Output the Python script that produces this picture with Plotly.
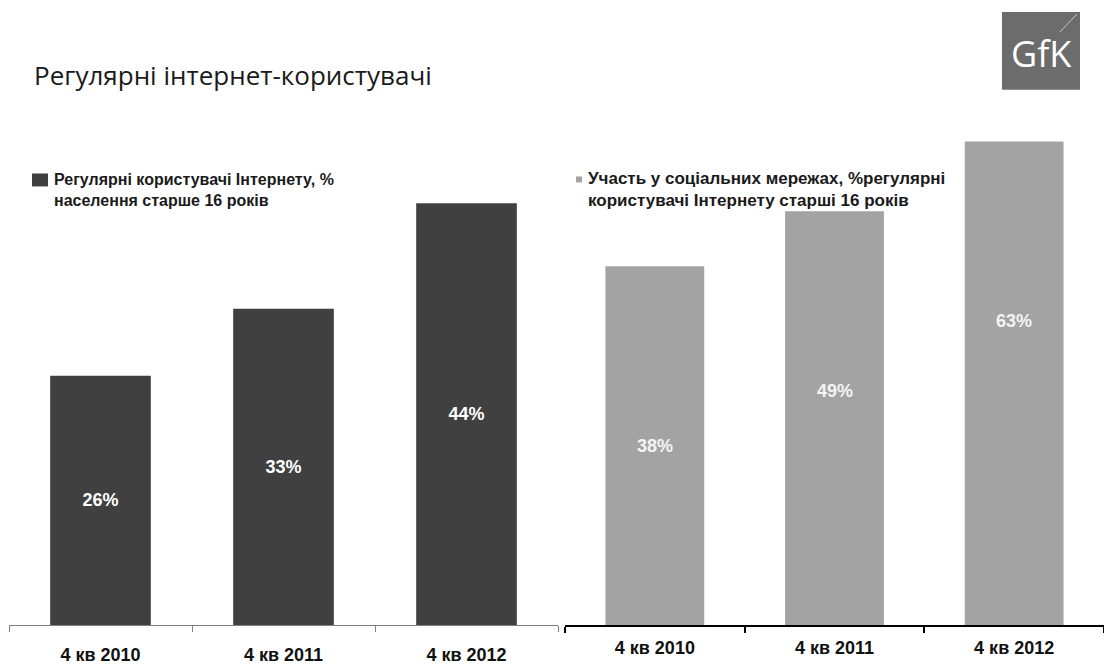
import plotly.graph_objects as go

# ---------------- data ----------------
categories = ["4 кв 2010", "4 кв 2011", "4 кв 2012"]
internet_users = [26, 33, 44]
social_networks = [38, 49, 63]

title_text = "Регулярні інтернет-користувачі"
legend_left = "Регулярні користувачі Інтернету, %<br>населення старше 16 років"
legend_right = "Участь у соціальних мережах, %регулярні<br>користувачі Інтернету старші 16 років"
logo_text = "GfK"

# ---------------- styling / layout constants ----------------
W, H = 1104, 665
DARK = "#404040"
LIGHT = "#A3A3A3"
FONT = "Liberation Sans, Arial, sans-serif"

Y_DOMAIN = [38 / H, 1 - 100 / H]
Y1_RANGE = [0, 54.8]
Y2_MIN = -34          # right chart axis does not start at zero (as in the original)
Y2_RANGE = [Y2_MIN, 71.4]
LABEL2_OFFSET = 36    # right chart labels sit below bar centre in the original


def px_x(x):
    return x / W


def px_y(y):
    return 1 - y / H


fig = go.Figure()

fig.add_trace(go.Bar(
    x=categories, y=internet_users, xaxis="x", yaxis="y",
    marker=dict(color=DARK, line=dict(width=0)),
    text=[f"{v}%" for v in internet_users],
    textposition="inside", insidetextanchor="middle",
    textfont=dict(family=FONT, size=18, color="white", weight="bold"),
    width=0.55, showlegend=False, hoverinfo="skip",
))

fig.add_trace(go.Bar(
    x=categories, y=[v - Y2_MIN for v in social_networks], base=Y2_MIN,
    xaxis="x2", yaxis="y2",
    marker=dict(color=LIGHT, line=dict(width=0)),
    showlegend=False, hoverinfo="skip",
))

annotations = []
for c, v in zip(categories, social_networks):
    annotations.append(dict(
        x=c, y=v - LABEL2_OFFSET, xref="x2", yref="y2", text=f"{v}%",
        showarrow=False, font=dict(family=FONT, size=18, color="#F4F4F4", weight="bold"),
    ))

# title
annotations.append(dict(
    x=px_x(32), y=px_y(75), xref="paper", yref="paper", xanchor="left", yanchor="middle",
    text=title_text, showarrow=False,
    font=dict(family="Open Sans, sans-serif", size=26, color="#1a1a1a"),
))

# legends
annotations.append(dict(
    x=px_x(52), y=px_y(170), xref="paper", yref="paper", xanchor="left", yanchor="top",
    text=legend_left, showarrow=False, align="left",
    font=dict(family=FONT, size=16, color="#1a1a1a", weight="bold"),
))
annotations.append(dict(
    x=px_x(586), y=px_y(168), xref="paper", yref="paper", xanchor="left", yanchor="top",
    text=legend_right, showarrow=False, align="left",
    font=dict(family=FONT, size=17, color="#1a1a1a", weight="bold"),
))

# logo text
annotations.append(dict(
    x=px_x(1041), y=px_y(54), xref="paper", yref="paper", xanchor="center", yanchor="middle",
    text=logo_text, showarrow=False,
    font=dict(family="Open Sans, sans-serif", size=36, color="white"),
))

shapes = [
    # legend swatches
    dict(type="rect", xref="paper", yref="paper",
         x0=px_x(32), x1=px_x(48), y0=px_y(174), y1=px_y(187),
         fillcolor=DARK, line=dict(width=0)),
    dict(type="rect", xref="paper", yref="paper",
         x0=px_x(576), x1=px_x(582), y0=px_y(177), y1=px_y(183),
         fillcolor=LIGHT, line=dict(width=0)),
    # logo
    dict(type="rect", xref="paper", yref="paper",
         x0=px_x(1002), x1=px_x(1080), y0=px_y(90), y1=px_y(12),
         fillcolor="#6c6c6c", line=dict(width=0)),
    dict(type="line", xref="paper", yref="paper",
         x0=px_x(1060), x1=px_x(1077), y0=px_y(32), y1=px_y(14),
         line=dict(color="#c8c8c8", width=1)),
]

fig.update_layout(
    width=W, height=H,
    margin=dict(l=0, r=0, t=0, b=0),
    paper_bgcolor="white", plot_bgcolor="white",
    bargap=0.45,
    annotations=annotations,
    shapes=shapes,
    xaxis=dict(
        domain=[px_x(9), px_x(558)], anchor="y",
        type="category", tickson="boundaries", ticks="outside", ticklen=6,
        tickcolor="#7f7f7f", tickwidth=1,
        showline=True, linecolor="#7f7f7f", linewidth=1,
        showgrid=False, zeroline=False,
        tickfont=dict(family=FONT, size=18, color="#111111", weight="bold"),
        ticklabelstandoff=13,
    ),
    yaxis=dict(
        domain=Y_DOMAIN, anchor="x", range=Y1_RANGE,
        visible=False, showgrid=False, zeroline=False,
    ),
    xaxis2=dict(
        domain=[px_x(565), 1.0], anchor="y2",
        type="category", tickson="boundaries", ticks="outside", ticklen=6,
        tickcolor="#000000", tickwidth=2,
        showline=True, linecolor="#000000", linewidth=2,
        showgrid=False, zeroline=False,
        tickfont=dict(family=FONT, size=18, color="#111111", weight="bold"),
        ticklabelstandoff=5,
    ),
    yaxis2=dict(
        domain=Y_DOMAIN, anchor="x2", range=Y2_RANGE,
        visible=False, showgrid=False, zeroline=False,
    ),
)

fig.write_html("out.html")
